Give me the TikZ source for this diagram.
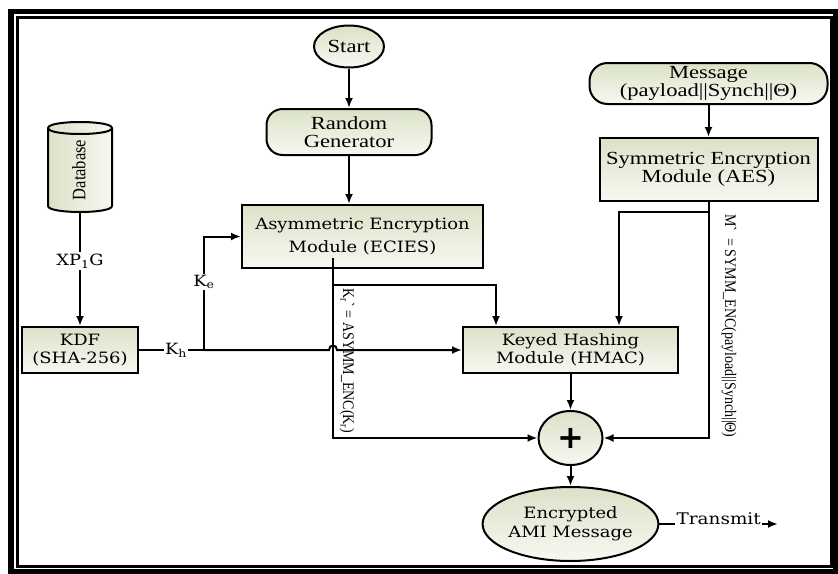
\documentclass[tikz,border=0pt]{standalone}
\usepackage{fontspec}
\setmainfont{DejaVu Serif}
\newfontfamily\wfont[FakeStretch=1.15]{DejaVu Serif}
\newfontfamily\nfont[FakeStretch=1.22]{Liberation Serif}
\newfontfamily\rfont{Liberation Serif}
\newfontfamily\pfont{DejaVu Sans}
\usetikzlibrary{arrows.meta,shapes.geometric}
\definecolor{boxtop}{RGB}{219,226,200}
\definecolor{boxbot}{RGB}{247,248,241}
\begin{document}
\begin{tikzpicture}[x=1pt,y=-1pt,
  wire/.style={line width=2pt},
  arr/.style={wire,-{Latex[length=10pt,width=8pt]}},
  shadebox/.style={draw,line width=2pt,top color=boxtop,bottom color=boxbot,align=center,inner sep=0pt},
  wide/.style={font=\wfont\fontsize{15.6}{19}\selectfont},
  narrow/.style={font=\nfont\fontsize{18.5}{18.5}\selectfont},
  lbl/.style={fill=white,inner sep=1.5pt,font=\wfont\fontsize{15.5}{17}\selectfont},
  vlbl/.style={font=\rfont\fontsize{14}{16}\selectfont,rotate=-90,inner sep=0pt}]
\useasboundingbox (0,0) rectangle (838,573);
\fill[white] (0,0) rectangle (838,573);

% double frame
\draw[line width=5.5pt] (11,11.5) rectangle (836,572);
\draw[line width=3pt] (17.5,17.5) rectangle (831,566.5);

% database cylinder
\path[draw,line width=2pt,left color=boxtop,right color=boxbot]
  (48,128) .. controls (48,120) and (112,120) .. (112,128) -- (112,206)
  .. controls (112,214) and (48,214) .. (48,206) -- cycle;
\draw[line width=2pt] (48,128) .. controls (48,136) and (112,136) .. (112,128);
\node[rotate=90,font=\rfont\fontsize{16.5}{18}\selectfont,inner sep=0pt] (db) at (79,170) {\scalebox{1}[1.15]{Database}};
\coordinate (dbb) at (80,212);

% blocks
\node[shadebox,ellipse,narrow,minimum width=70,minimum height=42] (start) at (349,46.5) {Start};
\node[shadebox,rounded corners=16pt,narrow,minimum width=165,minimum height=46] (rng) at (349,132) {Random\\Generator};
\node[shadebox,rounded corners=18pt,narrow,minimum width=238,minimum height=41] (msg) at (708.5,83.5) {Message\\(payload||Synch||Θ)};
\node[shadebox,narrow,minimum width=218,minimum height=63] (sym) at (708.5,169.5) {Symmetric Encryption\\Module (AES)};
\node[shadebox,wide,font=\wfont\fontsize{15.6}{23}\selectfont,minimum width=241,minimum height=63] (asym) at (362.5,236.5) {Asymmetric Encryption\\Module (ECIES)};
\node[shadebox,wide,font=\wfont\fontsize{15.6}{17.5}\selectfont,minimum width=116,minimum height=46] (kdf) at (80,350) {KDF\\(SHA-256)};
\node[shadebox,wide,font=\wfont\fontsize{15.6}{18.5}\selectfont,minimum width=215,minimum height=46] (hmac) at (570.5,350) {Keyed Hashing\\Module (HMAC)};
\node[shadebox,ellipse,minimum width=64,minimum height=54] (plus) at (570.5,438) {\pfont\bfseries\fontsize{32}{32}\selectfont +};
\node[shadebox,ellipse,wide,minimum width=167,minimum height=74] (ami) at (570.5,524) {Encrypted\\AMI Message};

% junction points
\coordinate (jk) at (204,350);
\coordinate (hopL) at (329,350);
\coordinate (hopR) at (337,350);
\coordinate (ao) at (333,258);
\coordinate (ab) at (333,285);
\coordinate (sb) at (708.5,212);
\coordinate (tx) at (778,524);

% connectors
\draw[arr] (start) -- (rng);
\draw[arr] (rng) -- (asym.north -| rng);
\draw[arr] (msg) -- (sym);
\draw[arr] (dbb) -- node[lbl,pos=0.43]{XP\textsubscript{1}G} (kdf.north);
\draw[wire] (kdf.east) -- node[lbl,pos=0.57]{K\textsubscript{h}} (jk);
\draw[arr] (jk) -- (hopL) .. controls +(0,-6) and +(0,-6) .. (hopR) -- (hmac.west);
\draw[arr] (jk) -- node[lbl,pos=0.6]{K\textsubscript{e}} (jk |- asym.west) -- (asym.west);
\draw[wire] (ao) -- (ab);
\draw[arr] (ab) -| ([xshift=-74.5pt]hmac.north);
\draw[arr] (ab) -- (ab |- plus) -- (plus.west);
\draw[wire] (sym.south) -- (sb);
\draw[arr] (sb) -| ([xshift=48.5pt]hmac.north);
\draw[arr] (sb) -- (sb |- plus) -- (plus.east);
\draw[arr] (hmac) -- (plus);
\draw[arr] (plus) -- (ami);
\draw[arr] (ami.east) -- node[lbl,pos=0.5,yshift=5pt,font=\wfont\fontsize{16}{18}\selectfont]{Transmit} (tx);

% rotated labels
\node[vlbl] (kr) at (347,361) {\scalebox{1}[1.15]{K\textsubscript{r}\textasciigrave\ = ASYMM\_ENC(K\textsubscript{r})}};
\node[vlbl] (mp) at (729,326) {\scalebox{1}[1.15]{M\textasciigrave\ \ = SYMM\_ENC(payload||Synch||Θ)}};
\end{tikzpicture}
\end{document}
